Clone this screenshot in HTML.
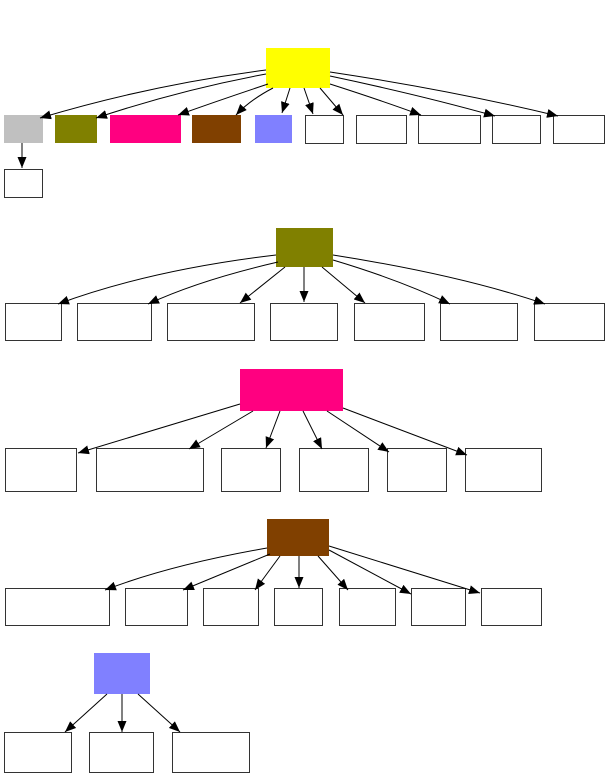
<!DOCTYPE html>
<html><head><meta charset="utf-8"><style>
html,body{margin:0;padding:0;background:#fff;width:609px;height:775px;overflow:hidden}
svg{display:block}
.w{fill:#fff;stroke:#333;stroke-width:1}
path{fill:none;stroke:#000;stroke-width:1;marker-end:url(#a)}
</style></head><body>
<svg width="609" height="775" viewBox="0 0 609 775" xmlns="http://www.w3.org/2000/svg">
<defs><marker id="a" viewBox="0 0 11 9" refX="11" refY="4.5" markerWidth="11" markerHeight="9" markerUnits="userSpaceOnUse" orient="auto"><polygon points="0,0 11,4.5 0,9" fill="#000"/></marker></defs>
<rect x="266" y="48" width="64" height="40" fill="#ffff00"/>
<rect x="4" y="115" width="39" height="28" fill="#c0c0c0"/>
<rect x="55" y="115" width="42" height="28" fill="#808000"/>
<rect x="110" y="115" width="71" height="28" fill="#ff0080"/>
<rect x="192" y="115" width="49" height="28" fill="#804000"/>
<rect x="255" y="115" width="37" height="28" fill="#8080ff"/>
<rect class="w" x="305.5" y="115.5" width="38" height="28"/>
<rect class="w" x="356.5" y="115.5" width="50" height="28"/>
<rect class="w" x="418.5" y="115.5" width="62" height="28"/>
<rect class="w" x="492.5" y="115.5" width="48" height="28"/>
<rect class="w" x="553.5" y="115.5" width="51" height="28"/>
<rect class="w" x="4.5" y="169.5" width="38" height="28"/>
<path d="M266,70 Q150,85 40,118"/>
<path d="M266,74 Q180,90 96,118"/>
<path d="M268,84 Q220,100 178,115"/>
<path d="M273,88 Q250,100 236,115"/>
<path d="M290,88 L282,113"/>
<path d="M304,88 L313,114"/>
<path d="M320,88 L343,115"/>
<path d="M330,84 Q380,100 421,115"/>
<path d="M330,76 Q420,95 495,116"/>
<path d="M330,72 Q450,90 558,116"/>
<path d="M22,143 L22,168"/>
<rect x="276" y="228" width="57" height="39" fill="#808000"/>
<rect class="w" x="5.5" y="303.5" width="56" height="37"/>
<rect class="w" x="77.5" y="303.5" width="74" height="37"/>
<rect class="w" x="167.5" y="303.5" width="87" height="37"/>
<rect class="w" x="270.5" y="303.5" width="67" height="37"/>
<rect class="w" x="354.5" y="303.5" width="70" height="37"/>
<rect class="w" x="440.5" y="303.5" width="77" height="37"/>
<rect class="w" x="534.5" y="303.5" width="70" height="37"/>
<path d="M276,255 Q150,270 58,304"/>
<path d="M278,262 Q200,280 148,304"/>
<path d="M285,267 L240,303"/>
<path d="M304,267 L304,302"/>
<path d="M322,267 L365,303"/>
<path d="M333,260 Q400,280 450,304"/>
<path d="M333,255 Q460,275 545,304"/>
<rect x="240" y="369" width="103" height="42" fill="#ff0080"/>
<rect class="w" x="5.5" y="448.5" width="71" height="43"/>
<rect class="w" x="96.5" y="448.5" width="107" height="43"/>
<rect class="w" x="221.5" y="448.5" width="59" height="43"/>
<rect class="w" x="299.5" y="448.5" width="69" height="43"/>
<rect class="w" x="387.5" y="448.5" width="59" height="43"/>
<rect class="w" x="465.5" y="448.5" width="76" height="43"/>
<path d="M240,404 L78,453"/>
<path d="M253,411 L189,449"/>
<path d="M280,411 L266,448"/>
<path d="M303,411 L322,449"/>
<path d="M327,411 L389,452"/>
<path d="M343,408 L467,455"/>
<rect x="267" y="519" width="62" height="37" fill="#804000"/>
<rect class="w" x="5.5" y="588.5" width="104" height="37"/>
<rect class="w" x="125.5" y="588.5" width="62" height="37"/>
<rect class="w" x="203.5" y="588.5" width="55" height="37"/>
<rect class="w" x="274.5" y="588.5" width="48" height="37"/>
<rect class="w" x="339.5" y="588.5" width="56" height="37"/>
<rect class="w" x="411.5" y="588.5" width="54" height="37"/>
<rect class="w" x="481.5" y="588.5" width="60" height="37"/>
<path d="M267,548 Q170,565 105,590"/>
<path d="M270,554 L183,590"/>
<path d="M280,556 L255,590"/>
<path d="M299,556 L299,588"/>
<path d="M318,556 L348,590"/>
<path d="M329,550 L411,594"/>
<path d="M329,546 L480,593"/>
<rect x="94" y="653" width="56" height="41" fill="#8080ff"/>
<rect class="w" x="4.5" y="732.5" width="67" height="40"/>
<rect class="w" x="89.5" y="732.5" width="64" height="40"/>
<rect class="w" x="172.5" y="732.5" width="77" height="40"/>
<path d="M107,694 L65,732"/>
<path d="M122,694 L122,732"/>
<path d="M138,694 L180,732"/>
</svg>
</body></html>
